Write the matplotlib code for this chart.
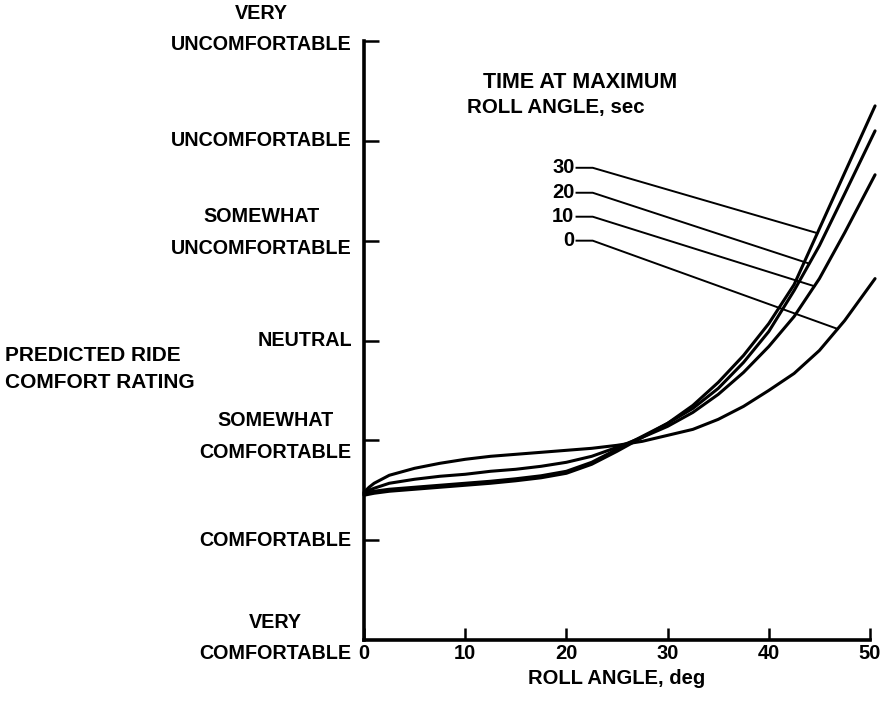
import numpy as np
import matplotlib
matplotlib.use("Agg")
import matplotlib.pyplot as plt

plt.rcParams["font.family"] = ["Liberation Sans", "DejaVu Sans"]
plt.rcParams["font.weight"] = "bold"

# Roll angle, deg
roll = [0, 0.5, 1, 2.5, 5, 7.5, 10, 12.5, 15, 17.5, 20, 22.5, 25, 27.5, 30,
        32.5, 35, 37.5, 40, 42.5, 45, 47.5, 50.5]

# Predicted comfort rating (1 = very comfortable ... 7 = very uncomfortable)
# for each time held at maximum roll angle
rating_0s = [2.48, 2.53, 2.57, 2.65, 2.72, 2.77, 2.81, 2.84, 2.86, 2.88, 2.90,
             2.92, 2.95, 2.99, 3.05, 3.11, 3.21, 3.34, 3.50, 3.67, 3.90, 4.20,
             4.62]
rating_10s = [2.47, 2.50, 2.52, 2.57, 2.61, 2.64, 2.66, 2.69, 2.71, 2.74, 2.78,
              2.84, 2.93, 3.03, 3.14, 3.28, 3.46, 3.68, 3.94, 4.24, 4.62, 5.08,
              5.66]
rating_20s = [2.46, 2.48, 2.49, 2.51, 2.53, 2.55, 2.57, 2.59, 2.615, 2.645,
              2.69, 2.78, 2.91, 3.04, 3.17, 3.32, 3.52, 3.78, 4.09, 4.50, 4.95,
              5.47, 6.10]
rating_30s = [2.45, 2.46, 2.47, 2.49, 2.51, 2.53, 2.55, 2.57, 2.595, 2.625,
              2.67, 2.76, 2.89, 3.03, 3.17, 3.35, 3.58, 3.85, 4.17, 4.56, 5.12,
              5.68, 6.35]

series = {"30": rating_30s, "20": rating_20s, "10": rating_10s, "0": rating_0s}
# where each series' leader line meets its curve (roll angle, deg)
leader_hit = {"30": 44.8, "20": 44.0, "10": 44.5, "0": 46.8}
# label heights on the rating scale
label_level = {"30": 5.73, "20": 5.48, "10": 5.24, "0": 5.00}

rating_levels = [1, 2, 3, 4, 5, 6, 7]
rating_names = ["VERY\nCOMFORTABLE", "COMFORTABLE", "SOMEWHAT\nCOMFORTABLE",
                "NEUTRAL", "SOMEWHAT\nUNCOMFORTABLE", "UNCOMFORTABLE",
                "VERY\nUNCOMFORTABLE"]
name_shift = [0.02, 0.0, 0.04, 0.0, 0.08, 0.0, 0.12]

x_ticks = [0, 10, 20, 30, 40, 50]

W, H = 886, 703
fig = plt.figure(figsize=(W / 100, H / 100), dpi=100)
ax = fig.add_axes([364 / W, (H - 640) / H, (870 - 364) / W, (640 - 41) / H])
ax.set_xlim(0, 50)
ax.set_ylim(1, 7)

for s in ("top", "right"):
    ax.spines[s].set_visible(False)
for s in ("left", "bottom"):
    ax.spines[s].set_linewidth(2.6)
    ax.spines[s].set_capstyle("projecting")

fs = 14.2
ax.set_yticks(rating_levels[1:])
ax.set_yticklabels([])
ax.tick_params(axis="y", direction="in", length=11, width=1.8)
ax.set_xticks(x_ticks)
ax.set_xticklabels([str(v) for v in x_ticks], fontsize=14.5)
ax.tick_params(axis="x", direction="in", length=9, width=1.8, pad=3)

for lvl, name, dy in zip(rating_levels, rating_names, name_shift):
    ax.text(-1.2, lvl + dy, name, ha="right", va="center",
            multialignment="center", fontsize=fs, linespacing=1.85)

for key, vals in series.items():
    ax.plot(roll, vals, color="black", lw=2.2, clip_on=False,
            solid_capstyle="round", solid_joinstyle="round")
    yl = label_level[key]
    xe = leader_hit[key]
    ye = np.interp(xe, roll, vals)
    ax.plot([21.0, 22.6, xe], [yl, yl, ye], color="black", lw=1.4,
            clip_on=False)
    ax.text(20.8, yl, key, ha="right", va="center", fontsize=14.5)

fig.text(483 / W, 1 - 83 / H, "TIME AT MAXIMUM", ha="left", va="center",
         fontsize=15.5)
fig.text(467 / W, 1 - 107 / H, "ROLL ANGLE, sec", ha="left", va="center",
         fontsize=14.8)
fig.text(617 / W, 1 - 678 / H, "ROLL ANGLE, deg", ha="center", va="center",
         fontsize=14.5)
fig.text(5 / W, 1 - 369 / H, "PREDICTED RIDE\nCOMFORT RATING", ha="left",
         va="center", multialignment="left", fontsize=15, linespacing=1.55)

fig.savefig("out.png", dpi=100)
